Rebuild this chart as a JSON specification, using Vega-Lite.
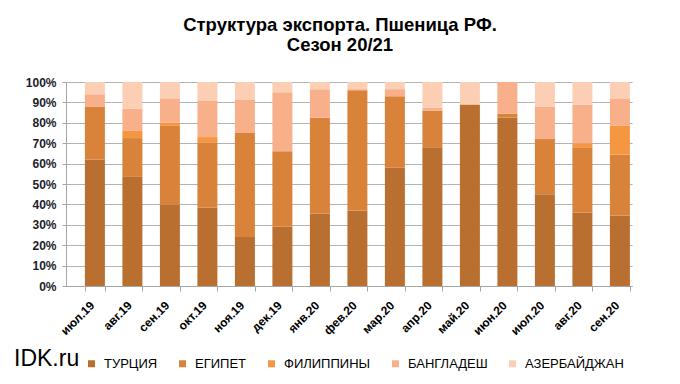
{
  "$schema": "https://vega.github.io/schema/vega-lite/v6.json",
  "autosize": "none",
  "width": 566,
  "height": 204,
  "padding": {"left": 66, "top": 82, "right": 48, "bottom": 98},
  "background": "white",
  "title": {
    "text": ["Структура экспорта. Пшеница РФ.", "Сезон 20/21"],
    "font": "Liberation Sans",
    "fontSize": 18.5,
    "fontWeight": "bold",
    "color": "black",
    "anchor": "middle",
    "frame": "group",
    "dx": -9,
    "offset": 22,
    "lineHeight": 20
  },
  "data": {
    "values": [
      {"m": "июл.19", "c": "ТУРЦИЯ", "v": 62}, {"m": "июл.19", "c": "ЕГИПЕТ", "v": 26}, {"m": "июл.19", "c": "ФИЛИППИНЫ", "v": 0}, {"m": "июл.19", "c": "БАНГЛАДЕШ", "v": 6}, {"m": "июл.19", "c": "АЗЕРБАЙДЖАН", "v": 6},
      {"m": "авг.19", "c": "ТУРЦИЯ", "v": 53.5}, {"m": "авг.19", "c": "ЕГИПЕТ", "v": 19}, {"m": "авг.19", "c": "ФИЛИППИНЫ", "v": 3.5}, {"m": "авг.19", "c": "БАНГЛАДЕШ", "v": 11}, {"m": "авг.19", "c": "АЗЕРБАЙДЖАН", "v": 13},
      {"m": "сен.19", "c": "ТУРЦИЯ", "v": 40}, {"m": "сен.19", "c": "ЕГИПЕТ", "v": 38.5}, {"m": "сен.19", "c": "ФИЛИППИНЫ", "v": 1.5}, {"m": "сен.19", "c": "БАНГЛАДЕШ", "v": 12}, {"m": "сен.19", "c": "АЗЕРБАЙДЖАН", "v": 8},
      {"m": "окт.19", "c": "ТУРЦИЯ", "v": 38.5}, {"m": "окт.19", "c": "ЕГИПЕТ", "v": 32}, {"m": "окт.19", "c": "ФИЛИППИНЫ", "v": 2.5}, {"m": "окт.19", "c": "БАНГЛАДЕШ", "v": 18}, {"m": "окт.19", "c": "АЗЕРБАЙДЖАН", "v": 9},
      {"m": "ноя.19", "c": "ТУРЦИЯ", "v": 24}, {"m": "ноя.19", "c": "ЕГИПЕТ", "v": 51}, {"m": "ноя.19", "c": "ФИЛИППИНЫ", "v": 0}, {"m": "ноя.19", "c": "БАНГЛАДЕШ", "v": 16.5}, {"m": "ноя.19", "c": "АЗЕРБАЙДЖАН", "v": 8.5},
      {"m": "дек.19", "c": "ТУРЦИЯ", "v": 29}, {"m": "дек.19", "c": "ЕГИПЕТ", "v": 37}, {"m": "дек.19", "c": "ФИЛИППИНЫ", "v": 0}, {"m": "дек.19", "c": "БАНГЛАДЕШ", "v": 29}, {"m": "дек.19", "c": "АЗЕРБАЙДЖАН", "v": 5},
      {"m": "янв.20", "c": "ТУРЦИЯ", "v": 35.5}, {"m": "янв.20", "c": "ЕГИПЕТ", "v": 47}, {"m": "янв.20", "c": "ФИЛИППИНЫ", "v": 0}, {"m": "янв.20", "c": "БАНГЛАДЕШ", "v": 14}, {"m": "янв.20", "c": "АЗЕРБАЙДЖАН", "v": 3.5},
      {"m": "фев.20", "c": "ТУРЦИЯ", "v": 37}, {"m": "фев.20", "c": "ЕГИПЕТ", "v": 59}, {"m": "фев.20", "c": "ФИЛИППИНЫ", "v": 0}, {"m": "фев.20", "c": "БАНГЛАДЕШ", "v": 0.5}, {"m": "фев.20", "c": "АЗЕРБАЙДЖАН", "v": 3.5},
      {"m": "мар.20", "c": "ТУРЦИЯ", "v": 58}, {"m": "мар.20", "c": "ЕГИПЕТ", "v": 35}, {"m": "мар.20", "c": "ФИЛИППИНЫ", "v": 0}, {"m": "мар.20", "c": "БАНГЛАДЕШ", "v": 3.5}, {"m": "мар.20", "c": "АЗЕРБАЙДЖАН", "v": 3.5},
      {"m": "апр.20", "c": "ТУРЦИЯ", "v": 68}, {"m": "апр.20", "c": "ЕГИПЕТ", "v": 18}, {"m": "апр.20", "c": "ФИЛИППИНЫ", "v": 0}, {"m": "апр.20", "c": "БАНГЛАДЕШ", "v": 1.5}, {"m": "апр.20", "c": "АЗЕРБАЙДЖАН", "v": 12.5},
      {"m": "май.20", "c": "ТУРЦИЯ", "v": 89}, {"m": "май.20", "c": "ЕГИПЕТ", "v": 0}, {"m": "май.20", "c": "ФИЛИППИНЫ", "v": 0}, {"m": "май.20", "c": "БАНГЛАДЕШ", "v": 0}, {"m": "май.20", "c": "АЗЕРБАЙДЖАН", "v": 11},
      {"m": "июн.20", "c": "ТУРЦИЯ", "v": 82.5}, {"m": "июн.20", "c": "ЕГИПЕТ", "v": 2}, {"m": "июн.20", "c": "ФИЛИППИНЫ", "v": 0}, {"m": "июн.20", "c": "БАНГЛАДЕШ", "v": 15.5}, {"m": "июн.20", "c": "АЗЕРБАЙДЖАН", "v": 0},
      {"m": "июл.20", "c": "ТУРЦИЯ", "v": 45}, {"m": "июл.20", "c": "ЕГИПЕТ", "v": 27}, {"m": "июл.20", "c": "ФИЛИППИНЫ", "v": 0}, {"m": "июл.20", "c": "БАНГЛАДЕШ", "v": 16}, {"m": "июл.20", "c": "АЗЕРБАЙДЖАН", "v": 12},
      {"m": "авг.20", "c": "ТУРЦИЯ", "v": 36}, {"m": "авг.20", "c": "ЕГИПЕТ", "v": 32}, {"m": "авг.20", "c": "ФИЛИППИНЫ", "v": 2}, {"m": "авг.20", "c": "БАНГЛАДЕШ", "v": 19}, {"m": "авг.20", "c": "АЗЕРБАЙДЖАН", "v": 11},
      {"m": "сен.20", "c": "ТУРЦИЯ", "v": 34.5}, {"m": "сен.20", "c": "ЕГИПЕТ", "v": 30}, {"m": "сен.20", "c": "ФИЛИППИНЫ", "v": 14}, {"m": "сен.20", "c": "БАНГЛАДЕШ", "v": 13.5}, {"m": "сен.20", "c": "АЗЕРБАЙДЖАН", "v": 8}
    ]
  },
  "transform": [
    {"calculate": "indexof(['ТУРЦИЯ', 'ЕГИПЕТ', 'ФИЛИППИНЫ', 'БАНГЛАДЕШ', 'АЗЕРБАЙДЖАН'], datum.c)", "as": "o"}
  ],
  "mark": {"type": "bar"},
  "encoding": {
    "x": {
      "field": "m",
      "type": "nominal",
      "sort": null,
      "scale": {"paddingInner": 0.467, "paddingOuter": 0.28, "align": 0.9},
      "axis": {
        "title": null,
        "labelAngle": -45,
        "labelAlign": "right",
        "labelBaseline": "middle",
        "labelFont": "Liberation Sans",
        "labelFontSize": 12,
        "labelFontWeight": "bold",
        "labelColor": "black",
        "labelPadding": 12,
        "labelOffset": -3,
        "tickBand": "extent",
        "tickColor": "#a6a6a6",
        "tickSize": 5,
        "domainColor": "#a6a6a6",
        "grid": false
      }
    },
    "y": {
      "field": "v",
      "type": "quantitative",
      "stack": "normalize",
      "scale": {"domain": [0, 1]},
      "axis": {
        "title": null,
        "format": ".0%",
        "values": [0, 0.1, 0.2, 0.3, 0.4, 0.5, 0.6, 0.7, 0.8, 0.9, 1],
        "labelFont": "Liberation Sans",
        "labelFontSize": 12,
        "labelFontWeight": "bold",
        "labelColor": "#1c1c2c",
        "labelPadding": 6,
        "tickColor": "#a6a6a6",
        "tickSize": 4,
        "domainColor": "#a6a6a6",
        "gridColor": "#b3b3b3",
        "gridWidth": 1
      }
    },
    "order": {"field": "o", "type": "quantitative", "sort": "ascending"},
    "color": {
      "field": "c",
      "type": "nominal",
      "sort": ["ТУРЦИЯ", "ЕГИПЕТ", "ФИЛИППИНЫ", "БАНГЛАДЕШ", "АЗЕРБАЙДЖАН"],
      "scale": {
        "domain": ["ТУРЦИЯ", "ЕГИПЕТ", "ФИЛИППИНЫ", "БАНГЛАДЕШ", "АЗЕРБАЙДЖАН"],
        "range": ["#b96f30", "#d9823a", "#f59640", "#f8b08a", "#fccfb5"]
      },
      "legend": {
        "title": "IDK.ru",
        "titleOrient": "left",
        "titleFont": "Liberation Sans",
        "titleFontSize": 23,
        "titleFontWeight": "normal",
        "titleColor": "black",
        "titleAnchor": "end",
        "titleBaseline": "bottom",
        "titlePadding": 5,
        "orient": "none",
        "direction": "horizontal",
        "legendX": -52,
        "legendY": 275,
        "symbolType": "square",
        "symbolSize": 49,
        "symbolStrokeWidth": 0,
        "labelFont": "Liberation Sans",
        "labelFontSize": 13,
        "labelColor": "black",
        "columnPadding": 18,
        "labelOffset": 6
      }
    }
  },
  "config": {
    "view": {"stroke": null}
  }
}
